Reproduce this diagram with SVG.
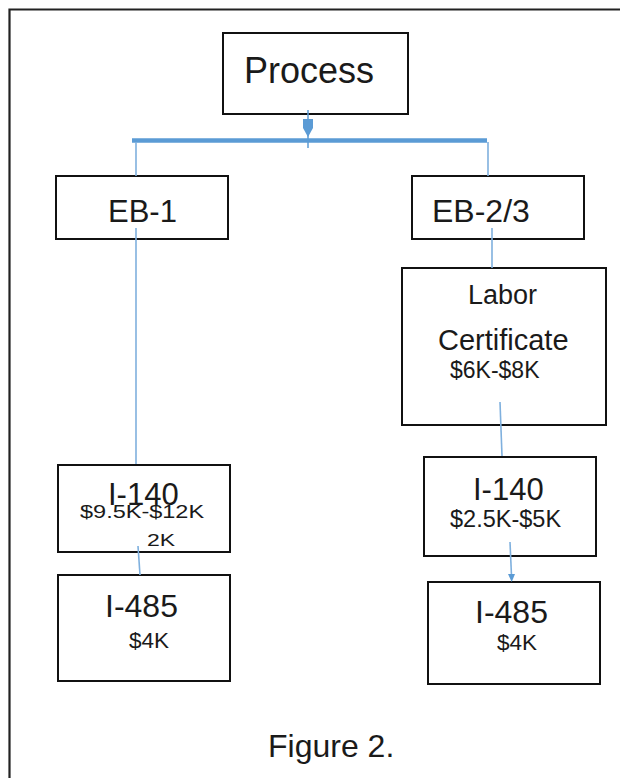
<svg xmlns="http://www.w3.org/2000/svg" width="620" height="778" viewBox="0 0 620 778">
<style>
.box{fill:#ffffff;stroke:#111111;stroke-width:2}
.t{font-family:"Liberation Sans",Arial,sans-serif;fill:#1a1a1a}
.c{stroke:#7fb0de;stroke-width:1.6;fill:none}
.ah{fill:#5b9bd5}
</style>
<rect width="620" height="778" fill="#ffffff"/>
<path d="M620,9.5 H9.5 V778" fill="none" stroke="#222222" stroke-width="2.2"/>
<g id="node-process">
<rect class="box" x="223" y="33" width="185" height="81"/>
<text class="t" x="244" y="83" font-size="36">Process</text>
</g>
<g id="node-eb1">
<rect class="box" x="56" y="176" width="172" height="63"/>
<text class="t" x="108" y="222" font-size="31">EB-1</text>
</g>
<g id="node-eb23">
<rect class="box" x="412" y="176" width="172" height="63"/>
<text class="t" x="432" y="222" font-size="32">EB-2/3</text>
</g>
<g id="node-labor">
<rect class="box" x="402" y="268" width="204" height="157"/>
<text class="t" x="468" y="304" font-size="27">Labor</text>
<text class="t" x="438" y="350" font-size="29">Certificate</text>
<text class="t" x="450" y="378" font-size="23">$6K-$8K</text>
</g>
<g id="node-i140-left">
<rect class="box" x="58" y="465" width="172" height="87"/>
<text class="t" x="108" y="505" font-size="31">I-140</text>
<text class="t" transform="translate(80,518) scale(1,0.75)" font-size="23.5">$9.5K-$12K</text>
<text class="t" transform="translate(147,546) scale(1,0.75)" font-size="23">2K</text>
</g>
<g id="node-i485-left">
<rect class="box" x="58" y="575" width="172" height="106"/>
<text class="t" x="105" y="617" font-size="32">I-485</text>
<text class="t" x="129" y="648" font-size="22.5">$4K</text>
</g>
<g id="node-i140-right">
<rect class="box" x="424" y="457" width="172" height="99"/>
<text class="t" x="473" y="500" font-size="31">I-140</text>
<text class="t" x="450" y="527" font-size="23.5">$2.5K-$5K</text>
</g>
<g id="node-i485-right">
<rect class="box" x="428" y="582" width="172" height="102"/>
<text class="t" x="475" y="623" font-size="32">I-485</text>
<text class="t" x="497" y="650" font-size="22.5">$4K</text>
</g>
<g id="connectors">
<line x1="132" y1="140.5" x2="487" y2="140.5" stroke="#5b9bd5" stroke-width="4.5"/>
<line x1="308" y1="110" x2="308" y2="148" stroke="#5b9bd5" stroke-width="1.5"/>
<polygon class="ah" points="303,119 313,119 313,128 308,137 303,128"/>
<line class="c" x1="136" y1="142" x2="136" y2="176"/>
<line class="c" x1="488" y1="142" x2="488" y2="176"/>
<line class="c" x1="136" y1="228" x2="136" y2="464"/>
<line class="c" x1="138" y1="546" x2="140" y2="575"/>
<line class="c" x1="492" y1="228" x2="492" y2="268"/>
<line class="c" x1="500" y1="402" x2="502" y2="456"/>
<line class="c" x1="510" y1="542" x2="511.5" y2="576"/>
<polygon class="ah" points="508,574 515,574 511.7,582"/>
</g>
<text class="t" x="268" y="757" font-size="32">Figure 2.</text>
</svg>
